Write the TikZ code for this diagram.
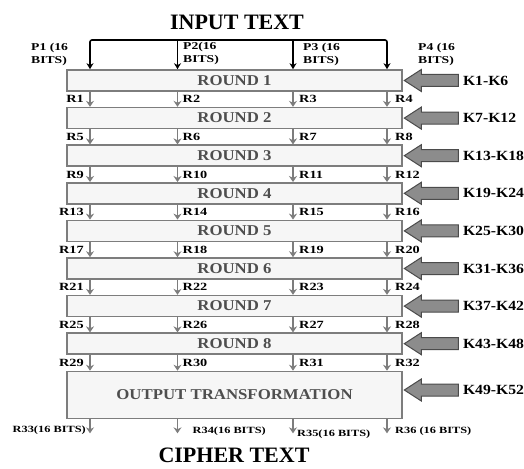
\documentclass[tikz,border=0pt]{standalone}
\usepackage{fontspec}
\setmainfont{Liberation Serif}
\newfontfamily\widefont{Liberation Serif}[FakeStretch=1.3]
\newfontfamily\midfont{Liberation Serif}[FakeStretch=1.12]
\usetikzlibrary{arrows.meta,positioning,calc}
\definecolor{boxgrey}{RGB}{125,125,125}
\definecolor{boxfill}{RGB}{246,246,246}
\definecolor{keygrey}{RGB}{140,140,140}
\definecolor{textgrey}{RGB}{78,78,78}

\begin{document}
\begin{tikzpicture}[x=1pt, y=-1pt,
    roundbox/.style={rectangle, draw=boxgrey, fill=boxfill, line width=1.6pt,
        minimum width=335pt, minimum height=21pt, inner sep=0pt,
        font=\midfont\bfseries\fontsize{15}{15}\selectfont, text=textgrey},
    rlabel/.style={font=\widefont\bfseries\fontsize{11}{11}\selectfont, inner sep=0pt},
    plabel/.style={font=\widefont\bfseries\fontsize{10.5}{13}\selectfont, inner sep=0pt, align=left},
    klabel/.style={font=\midfont\bfseries\fontsize{14}{14}\selectfont, inner sep=0pt},
    olabel/.style={font=\widefont\bfseries\fontsize{9.5}{9.5}\selectfont, inner sep=0pt},
    titletext/.style={font=\bfseries\fontsize{22}{22}\selectfont, inner sep=0pt},
    inarrow/.style={line width=1.6pt, -{Stealth[length=6pt, width=7pt]}},
    passarrow/.style={draw=boxgrey, line width=1.8pt, -{Stealth[length=6pt, width=8pt]}},
    keyarrow/.style={fill=keygrey, draw=boxgrey!60!black, line width=1pt, line join=miter},
    >=Stealth
]
\useasboundingbox[fill=white] (0,0) rectangle (524,468);

% titles
\node[titletext] (intext) at (237,22) {INPUT TEXT};
\node[titletext] (ciphertext) at (234,455) {CIPHER TEXT};

% rounds and output stage
\foreach \i in {1,...,8}
  \node[roundbox] (round\i) at (234.5,{80.5+37.6*(\i-1)}) {ROUND \i};
\node[roundbox, minimum height=47pt] (outbox) at (234.5,395) {OUTPUT TRANSFORMATION};

% input bus
\coordinate (bus1) at (90,40);
\coordinate (bus2) at (177.5,40);
\coordinate (bus3) at (293,40);
\coordinate (bus4) at (387,40);
\draw[line width=1.6pt, rounded corners=2pt, {Stealth[length=6pt, width=7pt]}-{Stealth[length=6pt, width=7pt]}]
  (round1.north -| bus1) -- (bus1) -- (bus4) -- (round1.north -| bus4);
\draw[inarrow] (bus2) -- (round1.north -| bus2);
\draw[inarrow] (bus3) -- (round1.north -| bus3);

\node[plabel, anchor=north west] (p1) at (31,43) {P1 (16\\BITS)};
\node[plabel, anchor=north west] (p2) at (183,42) {P2(16\\BITS)};
\node[plabel, anchor=north west] (p3) at (303,43) {P3 (16\\BITS)};
\node[plabel, anchor=north west] (p4) at (418,43) {P4 (16\\BITS)};

% round outputs R1..R32
\foreach \a/\b [count=\k] in {round1/round2, round2/round3, round3/round4, round4/round5,
    round5/round6, round6/round7, round7/round8, round8/outbox} {
  \foreach \j in {1,...,4} {
    \pgfmathtruncatemacro{\r}{4*(\k-1)+\j}
    \draw[passarrow] (\a.south -| bus\j) -- (\b.north -| bus\j);
    \coordinate (g\r) at ($(\a.south -| bus\j)!0.5!(\b.north -| bus\j)$);
  }
  \pgfmathtruncatemacro{\ra}{4*(\k-1)+1}
  \pgfmathtruncatemacro{\rb}{4*(\k-1)+2}
  \pgfmathtruncatemacro{\rc}{4*(\k-1)+3}
  \pgfmathtruncatemacro{\rd}{4*(\k-1)+4}
  \node[rlabel, left=6pt of g\ra] (r\ra) {R\ra};
  \node[rlabel, right=5pt of g\rb] (r\rb) {R\rb};
  \node[rlabel, right=6pt of g\rc] (r\rc) {R\rc};
  \node[rlabel, right=8pt of g\rd] (r\rd) {R\rd};
}

% subkeys
\foreach \i in {1,...,8} {
  \pgfmathtruncatemacro{\ka}{6*\i-5}
  \pgfmathtruncatemacro{\kb}{6*\i}
  \draw[keyarrow] ($(round\i.east)+(1.5,0)$) -- ++(17,-11) -- ++(0,5) -- ++(37,0)
    -- ++(0,12) -- ++(-37,0) -- ++(0,5) -- cycle;
  \node[klabel, right=60pt of round\i.east] (key\i) {K\ka-K\kb};
}
\draw[keyarrow] ($(outbox.east)+(1.5,-5)$) -- ++(17,-11) -- ++(0,5) -- ++(37,0)
  -- ++(0,12) -- ++(-37,0) -- ++(0,5) -- cycle;
\node[klabel, anchor=west] (key9) at ($(outbox.east)+(60,-5)$) {K49-K52};

% cipher outputs
\foreach \j in {1,...,4}
  \coordinate (out\j) at ($(outbox.south -| bus\j)+(0,14)$);
\foreach \j in {1,...,4}
  \draw[passarrow] (outbox.south -| bus\j) -- (out\j);
\node[olabel, anchor=east] (r33) at ($(out1)+(-4,-3)$) {R33(16 BITS)};
\node[olabel, anchor=west] (r34) at ($(out2)+(15,-2)$) {R34(16 BITS)};
\node[olabel, anchor=west] (r35) at ($(out3)+(4,1)$) {R35(16 BITS)};
\node[olabel, anchor=west] (r36) at ($(out4)+(8,-2)$) {R36 (16 BITS)};
\end{tikzpicture}
\end{document}
